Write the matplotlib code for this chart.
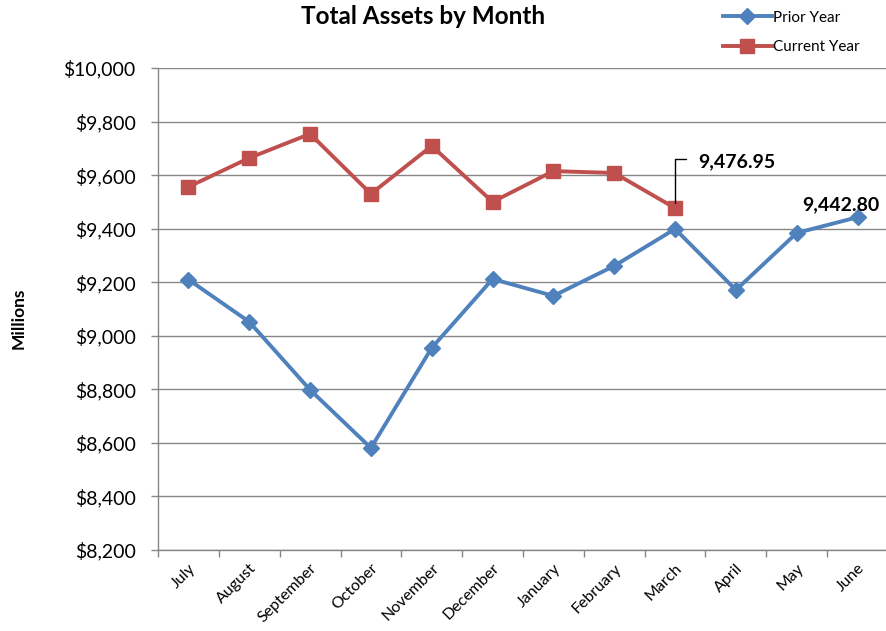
import matplotlib
matplotlib.use("Agg")
import matplotlib.pyplot as plt
from matplotlib.ticker import FuncFormatter

months = ["July", "August", "September", "October", "November", "December",
          "January", "February", "March", "April", "May", "June"]
prior_year = [9210, 9052, 8798, 8581, 8955, 9212, 9149, 9261, 9399, 9171, 9384, 9442.80]
current_year = [9556, 9664, 9754, 9530, 9709, 9500, 9615, 9608, 9476.95]
y_ticks = [8200, 8400, 8600, 8800, 9000, 9200, 9400, 9600, 9800, 10000]

plt.rcParams['font.family'] = ['Lato', 'DejaVu Sans']

fig = plt.figure(figsize=(8.86, 6.31), dpi=100)
ax = fig.add_axes([158/886, 1-550/631, (888-158)/886, (550-68)/631])

blue = "#4F81BD"
red = "#C0504D"
grid_c = "#868686"

x_prior = list(range(len(prior_year)))
x_cur = list(range(len(current_year)))
ax.plot(x_prior, prior_year, color=blue, lw=2.8, marker="D", markersize=8.5,
        label="Prior Year", zorder=3)
ax.plot(x_cur, current_year, color=red, lw=2.8, marker="s", markersize=10.5,
        label="Current Year", zorder=3)

ax.set_xlim(-0.5, len(months) - 0.5)
ax.set_ylim(y_ticks[0], y_ticks[-1])
ax.set_yticks(y_ticks)
ax.yaxis.set_major_formatter(FuncFormatter(lambda v, p: "${:,.0f}".format(v)))
ax.set_xticks(range(len(months)))
ax.set_xticklabels(months, rotation=45, ha="right", va="top", rotation_mode="anchor",
                   fontsize=11.5)
ax.set_xticks([i - 0.5 for i in range(len(months) + 1)], minor=True)
ax.tick_params(axis="x", which="major", length=0, pad=8)
ax.tick_params(axis="x", which="minor", length=5, color=grid_c, width=1)
ax.tick_params(axis="y", length=5, color=grid_c, width=1, labelsize=14, pad=11)

ax.grid(axis="y", color=grid_c, lw=1)
ax.set_axisbelow(True)
for s in ["top", "right"]:
    ax.spines[s].set_visible(False)
for s in ["left", "bottom"]:
    ax.spines[s].set_color(grid_c)
    ax.spines[s].set_linewidth(1)

ax.set_ylabel("Millions", fontsize=12.5, fontweight="bold", va="center")
ax.yaxis.set_label_coords((19 - 158) / 730, 0.48)

fig.text(423/886, 1-16/631, "Total Assets by Month", fontsize=17.5, fontweight="bold",
         ha="center", va="center")

# data labels
i_m = len(current_year) - 1
ax.annotate("", xy=(i_m, current_year[i_m]), xytext=(8, 35),
            textcoords="offset points",
            arrowprops=dict(arrowstyle="-", color="black", lw=1,
                            shrinkA=0, shrinkB=4,
                            connectionstyle="angle,angleA=0,angleB=90,rad=0"))
ax.annotate("{:,.2f}".format(current_year[i_m]), xy=(i_m, current_year[i_m]),
            xytext=(17, 33), textcoords="offset points", fontsize=14, fontweight="bold",
            ha="left", va="center")
i_j = len(prior_year) - 1
ax.annotate("{:,.2f}".format(prior_year[i_j]), xy=(i_j, prior_year[i_j]),
            xytext=(-12, 3), textcoords="offset points", fontsize=14, fontweight="bold",
            ha="center", va="bottom")

fig.legend(loc="upper left", bbox_to_anchor=(712/886, 1.0), frameon=False,
           fontsize=11, handlelength=3.2, handletextpad=0.1, labelspacing=1.0,
           borderaxespad=0.3)

fig.savefig("out.png", dpi=100)
